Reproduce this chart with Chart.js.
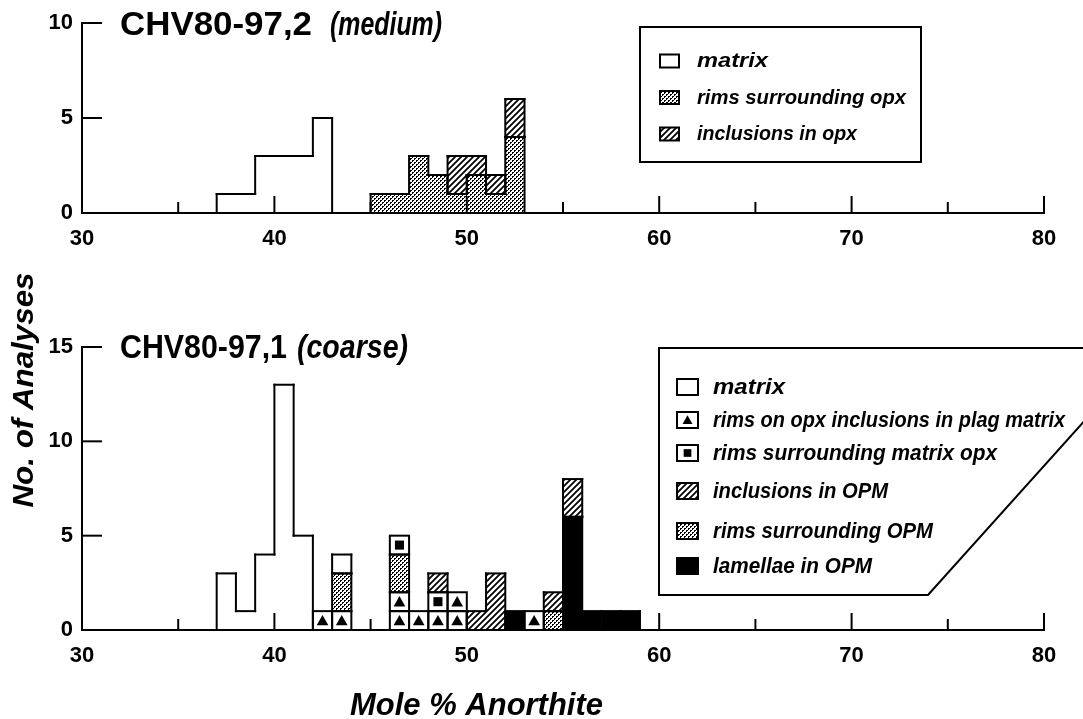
<!DOCTYPE html>
<html>
<head>
<meta charset="utf-8">
<script src="https://cdn.jsdelivr.net/npm/chart.js@4.4.1/dist/chart.umd.min.js"></script>
<style>
  body { margin: 0; background: #fff; }
  .panel { position: absolute; left: 0; top: 0; width: 1083px; height: 719px; }
</style>
</head>
<body>
<div class="panel"><canvas id="topChart"></canvas></div>
<div class="panel"><canvas id="bottomChart"></canvas></div>
<script>
// --- data: bin start (mole % An) and number of analyses ---
// CHV80-97,2 (medium)
const medMatrixBins = [37, 38, 39, 40, 41, 42];
const medMatrix     = [1, 1, 3, 3, 3, 5];
const medRimsBins   = [45, 46, 47, 48, 49, 50, 51, 52];
const medRims       = [1, 1, 3, 2, 1, 2, 1, 4];
const medInclBins   = [49, 50, 51, 52];
const medIncl       = [2, 1, 1, 2];

// CHV80-97,1 (coarse)
const crsOpxInclBins   = [42, 43, 46, 47, 48, 49, 53];
const crsOpxIncl       = [1, 1, 2, 1, 1, 2, 1];
const crsRimsOpmBins   = [43, 46, 54];
const crsRimsOpm       = [2, 2, 1];
const crsRimsOpxBins   = [46, 48];
const crsRimsOpx       = [1, 1];
const crsLamellaeBins  = [52, 55, 56, 57, 58];
const crsLamellae      = [1, 6, 1, 1, 1];
const crsInclOpmBins   = [48, 50, 51, 54, 55];
const crsInclOpm       = [1, 1, 3, 1, 2];
const crsMatrixBins    = [37, 38, 39, 40, 41, 43];
const crsMatrix        = [3, 1, 4, 13, 5, 1];

const FONT = "'Liberation Sans', Arial, sans-serif";

function toPoints(bins, counts) {
  return bins.map((b, i) => ({ x: b + 0.5, y: counts[i] }));
}

// fill patterns
function makeStipple() {
  const c = document.createElement('canvas');
  c.width = c.height = 4;
  const g = c.getContext('2d');
  g.fillStyle = '#fff'; g.fillRect(0, 0, 4, 4);
  g.fillStyle = '#000';
  g.fillRect(0, 0, 2, 1); g.fillRect(0, 1, 1, 1);
  g.fillRect(2, 2, 2, 1); g.fillRect(2, 3, 1, 1);
  return g.createPattern(c, 'repeat');
}
function makeHatch() {
  const c = document.createElement('canvas');
  c.width = c.height = 6;
  const g = c.getContext('2d');
  g.fillStyle = '#fff'; g.fillRect(0, 0, 6, 6);
  g.strokeStyle = '#000'; g.lineWidth = 1.8;
  g.beginPath();
  g.moveTo(0, 6); g.lineTo(6, 0);
  g.moveTo(-3, 3); g.lineTo(3, -3);
  g.moveTo(3, 9); g.lineTo(9, 3);
  g.stroke();
  return g.createPattern(c, 'repeat');
}
const stipple = makeStipple();
const hatch = makeHatch();

function fitText(ctx, text, x, y, font, width, align) {
  ctx.save();
  ctx.font = font;
  ctx.textAlign = align || 'left';
  const w = ctx.measureText(text).width;
  ctx.translate(x, y);
  ctx.scale(width / w, 1);
  ctx.fillText(text, 0, 0);
  ctx.restore();
}

function drawSymbol(ctx, kind, x, y, w, h) {
  ctx.fillStyle = kind === 'stipple' ? stipple : kind === 'hatch' ? hatch : kind === 'black' ? '#000' : '#fff';
  ctx.fillRect(x, y, w, h);
  ctx.lineWidth = 2;
  ctx.strokeStyle = '#000';
  ctx.strokeRect(x, y, w, h);
  drawMark(ctx, kind, x + w / 2, y + h / 2, Math.min(w, h));
}

function drawMark(ctx, kind, cx, cy, s) {
  ctx.fillStyle = '#000';
  if (kind === 'triangle') {
    const a = s * 0.62;
    ctx.beginPath();
    ctx.moveTo(cx, cy - a * 0.48);
    ctx.lineTo(cx + a / 2, cy + a * 0.4);
    ctx.lineTo(cx - a / 2, cy + a * 0.4);
    ctx.closePath();
    ctx.fill();
  } else if (kind === 'square') {
    const a = s * 0.48;
    ctx.fillRect(cx - a / 2, cy - a / 2, a, a);
  }
}

function seg(ctx, x1, y1, x2, y2) {
  ctx.beginPath(); ctx.moveTo(x1, y1); ctx.lineTo(x2, y2); ctx.stroke();
}

function vertical(ctx, x, a, b) {
  if (!a) { seg(ctx, x, b.t, x, b.b); return; }
  if (Math.max(a.t, b.t) < Math.min(a.b, b.b)) {
    seg(ctx, x, Math.min(a.t, b.t), x, Math.max(a.t, b.t));
    seg(ctx, x, Math.min(a.b, b.b), x, Math.max(a.b, b.b));
  } else {
    seg(ctx, x, a.t, x, a.b); seg(ctx, x, b.t, x, b.b);
  }
}

const panelPlugin = {
  id: 'panel',
  afterDatasetsDraw(chart) {
    const ctx = chart.ctx;
    const ys = chart.scales.y;
    const unit = ys.getPixelForValue(0) - ys.getPixelForValue(1);
    ctx.save();
    ctx.strokeStyle = '#000';
    ctx.lineWidth = 2;
    ctx.lineCap = 'square';
    chart.data.datasets.forEach((ds, i) => {
      const bars = chart.getDatasetMeta(i).data
        .map(el => ({ l: el.x - el.width / 2, r: el.x + el.width / 2, t: el.y, b: el.base }))
        .sort((p, q) => p.l - q.l);
      if (ds.mark) {
        bars.forEach(bar => {
          const n = Math.round((bar.b - bar.t) / unit);
          for (let k = 0; k < n; k++) {
            const top = bar.b - (k + 1) * unit;
            ctx.strokeRect(bar.l, top, bar.r - bar.l, unit);
            drawMark(ctx, ds.mark, (bar.l + bar.r) / 2, top + unit / 2, unit);
          }
        });
      } else {
        bars.forEach((bar, j) => {
          seg(ctx, bar.l, bar.t, bar.r, bar.t);
          seg(ctx, bar.l, bar.b, bar.r, bar.b);
          const prev = j > 0 && Math.abs(bars[j - 1].r - bar.l) < 1 ? bars[j - 1] : null;
          vertical(ctx, bar.l, prev, bar);
          const next = j < bars.length - 1 && Math.abs(bars[j + 1].l - bar.r) < 1;
          if (!next) vertical(ctx, bar.r, null, bar);
        });
      }
    });
    ctx.restore();
  },
  afterDraw(chart) {
    const ctx = chart.ctx;
    const opts = chart.options.plugins.panel;
    const xs = chart.scales.x, ys = chart.scales.y;
    const area = chart.chartArea;
    ctx.save();
    ctx.strokeStyle = '#000';
    ctx.fillStyle = '#000';
    ctx.lineWidth = 2;
    // inward tick marks
    xs.ticks.forEach(t => {
      if (t.value === xs.min) return;
      const px = xs.getPixelForValue(t.value);
      seg(ctx, px, area.bottom, px, area.bottom - (t.value % 10 === 0 ? 17 : 11));
    });
    ys.ticks.forEach(t => {
      if (t.value === 0) return;
      const py = ys.getPixelForValue(t.value);
      seg(ctx, area.left, py, area.left + 20, py);
    });
    // panel title
    opts.title.forEach(p => {
      ctx.fillStyle = '#000';
      fitText(ctx, p.text, p.x, opts.titleY, (p.italic ? 'italic ' : '') + 'bold 34px ' + FONT, p.w);
    });
    // legend frame
    ctx.lineWidth = 2;
    ctx.beginPath();
    opts.frame.forEach((pt, k) => k ? ctx.lineTo(pt[0], pt[1]) : ctx.moveTo(pt[0], pt[1]));
    ctx.closePath();
    ctx.stroke();
    const lg = opts.legend;
    lg.labels.forEach((label, k) => {
      const cy = lg.rows[k];
      drawSymbol(ctx, lg.kinds[k], lg.symX, cy - lg.symH / 2, lg.symW, lg.symH);
      ctx.fillStyle = '#000';
      fitText(ctx, label, lg.textX, cy + lg.drop, 'italic bold ' + lg.size + 'px ' + FONT, lg.widths[k]);
    });
    // axis titles
    if (opts.axisTitles) {
      ctx.save();
      ctx.translate(33, 390);
      ctx.rotate(-Math.PI / 2);
      fitText(ctx, 'No. of Analyses', 0, 0, 'italic bold 29px ' + FONT, 235, 'center');
      ctx.restore();
      fitText(ctx, 'Mole % Anorthite', 350, 715, 'italic bold 31px ' + FONT, 253);
    }
    ctx.restore();
  }
};

function makeChart(id, datasets, yMax, padTop, padBottom, panel) {
  const tickFont = { family: FONT, size: 22, weight: 'bold' };
  return new Chart(document.getElementById(id), {
    type: 'bar',
    data: { datasets },
    options: {
      responsive: true,
      maintainAspectRatio: false,
      animation: false,
      events: [],
      layout: { padding: { top: padTop, bottom: padBottom, left: 0, right: 39 } },
      datasets: { bar: { barPercentage: 1, categoryPercentage: 1, borderWidth: 0 } },
      plugins: { legend: { display: false }, tooltip: { enabled: false }, panel },
      scales: {
        x: {
          type: 'linear', min: 30, max: 80, offset: false, stacked: true,
          grid: { display: false, drawTicks: false, offset: false },
          border: { display: true, color: '#000', width: 2 },
          ticks: {
            stepSize: 5, autoSkip: false, maxRotation: 0, padding: 13, color: '#000', font: tickFont,
            callback: v => (v % 10 === 0 ? String(v) : '')
          },
          afterFit: s => { s.height = 45; }
        },
        y: {
          min: 0, max: yMax, stacked: true,
          grid: { display: false, drawTicks: false },
          border: { display: true, color: '#000', width: 2 },
          ticks: { stepSize: 5, padding: 9, color: '#000', font: tickFont },
          afterFit: s => { s.width = 82; }
        }
      }
    },
    plugins: [panelPlugin]
  });
}

makeChart('topChart', [
  { label: 'rims surrounding opx', data: toPoints(medRimsBins, medRims), backgroundColor: stipple },
  { label: 'inclusions in opx', data: toPoints(medInclBins, medIncl), backgroundColor: hatch },
  { label: 'matrix', data: toPoints(medMatrixBins, medMatrix), backgroundColor: '#fff' }
], 10, 23, 461, {
  titleY: 35,
  title: [{ text: 'CHV80-97,2', x: 120, w: 192 }, { text: '(medium)', x: 330, w: 112, italic: true }],
  frame: [[640, 27], [921, 27], [921, 162], [640, 162]],
  legend: {
    labels: ['matrix', 'rims surrounding opx', 'inclusions in opx'],
    kinds: ['white', 'stipple', 'hatch'],
    rows: [61, 97.5, 134], widths: [71, 209, 160],
    symX: 660, symW: 19, symH: 13, textX: 697, size: 21, drop: 6
  }
});

makeChart('bottomChart', [
  { label: 'rims on opx inclusions in plag matrix', data: toPoints(crsOpxInclBins, crsOpxIncl), backgroundColor: '#fff', mark: 'triangle' },
  { label: 'rims surrounding OPM', data: toPoints(crsRimsOpmBins, crsRimsOpm), backgroundColor: stipple },
  { label: 'rims surrounding matrix opx', data: toPoints(crsRimsOpxBins, crsRimsOpx), backgroundColor: '#fff', mark: 'square' },
  { label: 'lamellae in OPM', data: toPoints(crsLamellaeBins, crsLamellae), backgroundColor: '#000' },
  { label: 'inclusions in OPM', data: toPoints(crsInclOpmBins, crsInclOpm), backgroundColor: hatch },
  { label: 'matrix', data: toPoints(crsMatrixBins, crsMatrix), backgroundColor: '#fff' }
], 15, 347, 44, {
  titleY: 358,
  title: [{ text: 'CHV80-97,1', x: 120, w: 167 }, { text: '(coarse)', x: 297, w: 111, italic: true }],
  frame: [[659, 348], [1150, 348], [928, 595], [659, 595]],
  legend: {
    labels: ['matrix', 'rims on opx inclusions in plag matrix', 'rims surrounding matrix opx',
             'inclusions in OPM', 'rims surrounding OPM', 'lamellae in OPM'],
    kinds: ['white', 'triangle', 'square', 'hatch', 'stipple', 'black'],
    rows: [387, 420, 453, 491, 531, 566], widths: [72, 352, 284, 175, 220, 159],
    symX: 677, symW: 21, symH: 16, textX: 713, size: 22, drop: 7
  },
  axisTitles: true
});
</script>
</body>
</html>
